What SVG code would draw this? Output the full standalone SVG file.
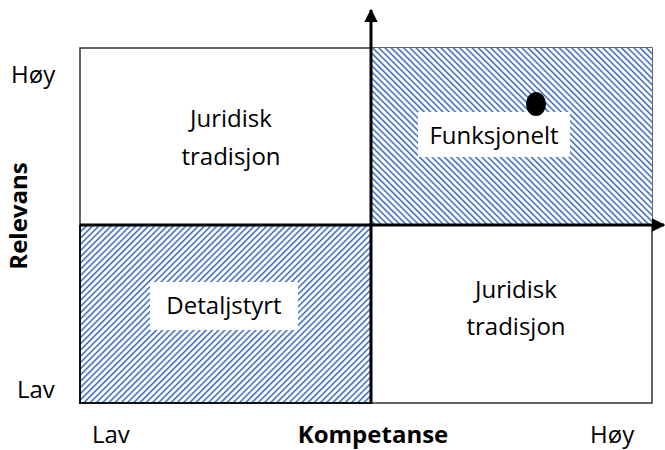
<svg xmlns="http://www.w3.org/2000/svg" width="665" height="450" viewBox="0 0 665 450">
<style>
.t{font-family:"Open Sans","Liberation Sans",sans-serif;font-size:24px;fill:#000}
.b{font-family:"Open Sans","Liberation Sans",sans-serif;font-size:24px;font-weight:bold;fill:#000}
.m{text-anchor:middle}
.ax{stroke:#000;stroke-width:3;fill:none}
</style>
<defs>
<pattern id="hB" patternUnits="userSpaceOnUse" width="4.4" height="10" patternTransform="rotate(-45)">
<rect width="4.4" height="10" fill="#fff"/>
<rect width="1.6" height="10" fill="#4472C4"/>
</pattern>
<pattern id="hF" patternUnits="userSpaceOnUse" width="4.4" height="10" patternTransform="rotate(45)">
<rect width="4.4" height="10" fill="#fff"/>
<rect width="1.6" height="10" fill="#4472C4"/>
</pattern>
<marker id="ar" viewBox="0 0 10 10" refX="9" refY="5" markerWidth="4.5" markerHeight="4.5" orient="auto" markerUnits="strokeWidth">
<path d="M0,0 L10,5 L0,10 z" fill="#000"/>
</marker>
</defs>
<rect x="0" y="0" width="665" height="450" fill="#fff"/>
<g id="frame">
<rect x="80" y="48" width="572" height="355" fill="#fff" stroke="#333" stroke-width="1.5"/>
</g>
<g id="q-upper-right">
<rect x="371" y="48" width="281" height="177" fill="url(#hB)"/>
<rect x="418" y="112" width="152" height="45" fill="#fff"/>
<text class="t m" x="494" y="144">Funksjonelt</text>
<ellipse cx="536" cy="104" rx="10" ry="12" fill="#000"/>
</g>
<g id="q-lower-left">
<rect x="80" y="225" width="291" height="178" fill="url(#hF)"/>
<path d="M80,225 V403 H371" stroke="#111" stroke-width="2" fill="none"/>
<rect x="150" y="282" width="148" height="48" fill="#fff"/>
<text class="t m" x="224" y="314">Detaljstyrt</text>
</g>
<g id="q-upper-left">
<text class="t m" x="231" y="127">Juridisk</text>
<text class="t m" x="231" y="165">tradisjon</text>
</g>
<g id="q-lower-right">
<text class="t m" x="516" y="298">Juridisk</text>
<text class="t m" x="516" y="335">tradisjon</text>
</g>
<g id="connectors">
<line class="ax" x1="371" y1="404" x2="371" y2="10" marker-end="url(#ar)"/>
<line class="ax" x1="80" y1="225" x2="664" y2="225" marker-end="url(#ar)"/>
</g>
<g id="labels">
<text class="t" x="11" y="83">Høy</text>
<text class="t" x="17" y="398">Lav</text>
<text class="t" x="92" y="443">Lav</text>
<text class="b m" x="373" y="443">Kompetanse</text>
<text class="t" x="590" y="443">Høy</text>
<text class="b m" transform="translate(27,216) rotate(-90)">Relevans</text>
</g>
</svg>
